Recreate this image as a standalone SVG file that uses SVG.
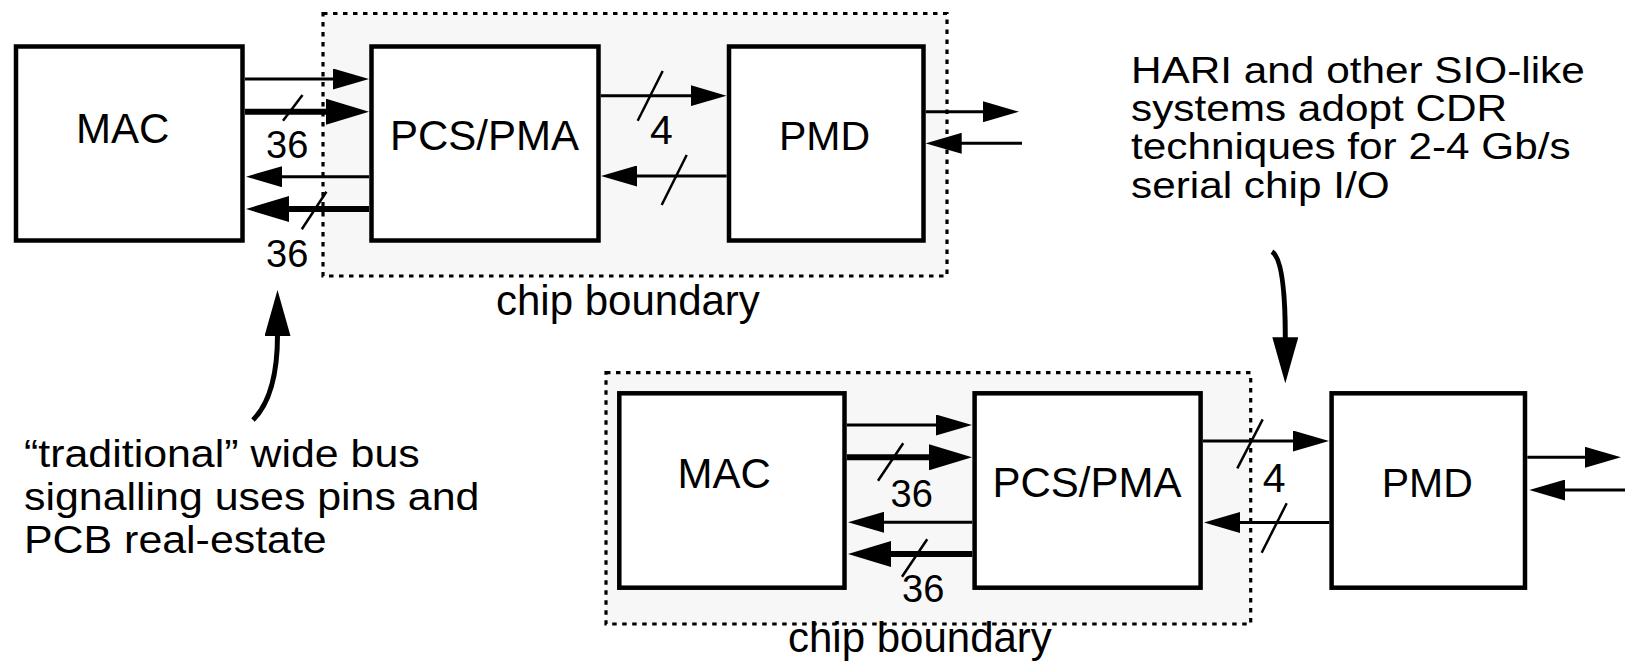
<svg xmlns="http://www.w3.org/2000/svg" width="1625" height="668" viewBox="0 0 1625 668">
<style>
  .bnd { fill: #f7f7f7; stroke: #000; stroke-width: 3.2; stroke-dasharray: 4.5 5.5; }
  .box { fill: #fff; stroke: #000; stroke-width: 4.5; }
  .t { font-family: "Liberation Sans", Arial, sans-serif; font-size: 42px; fill: #000; }
  .n { font-family: "Liberation Sans", Arial, sans-serif; font-size: 38px; fill: #000; }
  .thin { stroke: #000; stroke-width: 3; fill: none; marker-end: url(#ah); }
  .thick { stroke: #000; stroke-width: 6; fill: none; marker-end: url(#ahb); }
  .slash { stroke: #000; stroke-width: 2.5; }
  .curve { stroke: #000; stroke-width: 5; fill: none; marker-end: url(#ahc); }
</style>
<defs>
  <marker id="ah" markerUnits="userSpaceOnUse" viewBox="0 0 36 21" markerWidth="36" markerHeight="21" refX="1" refY="10.5" orient="auto">
    <path d="M0,0 L36,10.5 L0,21 z" fill="#000"/>
  </marker>
  <marker id="ahb" markerUnits="userSpaceOnUse" viewBox="0 0 43 26" markerWidth="43" markerHeight="26" refX="1" refY="13" orient="auto">
    <path d="M0,0 L43,13 L0,26 z" fill="#000"/>
  </marker>
  <marker id="ahc" markerUnits="userSpaceOnUse" viewBox="0 0 46 26" markerWidth="46" markerHeight="26" refX="1" refY="13" orient="auto">
    <path d="M0,0 L46,13 L0,26 z" fill="#000"/>
  </marker>
</defs>

<g id="boundary-top">
  <rect class="bnd" x="323" y="13.5" width="624" height="262.5"/>
  <text class="t" x="496" y="315">chip boundary</text>
</g>
<g id="boundary-bottom">
  <rect class="bnd" x="606" y="372.7" width="644.7" height="251.3"/>
  <text class="t" x="788" y="651.7">chip boundary</text>
</g>

<g id="mac-top">
  <rect class="box" x="16" y="46.5" width="226.5" height="194"/>
  <text class="t" x="76" y="143">MAC</text>
</g>
<g id="pcs-top">
  <rect class="box" x="371.5" y="46.5" width="227" height="194"/>
  <text class="t" x="390" y="150">PCS/PMA</text>
</g>
<g id="pmd-top">
  <rect class="box" x="729" y="46.5" width="194.5" height="194"/>
  <text class="t" x="779" y="150" style="font-size:41px">PMD</text>
</g>

<g id="mac-bottom">
  <rect class="box" x="619.3" y="393.3" width="225.2" height="194.4"/>
  <text class="t" x="677.6" y="488.3">MAC</text>
</g>
<g id="pcs-bottom">
  <rect class="box" x="974.6" y="393.3" width="226" height="194.4"/>
  <text class="t" x="992.5" y="496.7">PCS/PMA</text>
</g>
<g id="pmd-bottom">
  <rect class="box" x="1331.6" y="393.3" width="193.4" height="194.4"/>
  <text class="t" x="1381.7" y="496.7" style="font-size:41px">PMD</text>
</g>

<g id="note-left">
  <text class="t" transform="translate(24,0) scale(1.1,1)" style="font-size:39px"><tspan x="0" y="466.7">“traditional” wide bus</tspan><tspan x="0" y="510">signalling uses pins and</tspan><tspan x="0" y="553.3">PCB real-estate</tspan></text>
</g>
<g id="note-right">
  <text class="t" transform="translate(1131,0) scale(1.128,1)" style="font-size:37.5px"><tspan x="0" y="83.3">HARI and other SIO-like</tspan><tspan x="0" y="121">systems adopt CDR</tspan><tspan x="0" y="159.3">techniques for 2-4 Gb/s</tspan><tspan x="0" y="197.7">serial chip I/O</tspan></text>
</g>

<g id="connectors">
  <!-- top MAC <-> PCS -->
  <line class="thin" x1="245" y1="79" x2="334" y2="79"/>
  <line class="thick" x1="245" y1="111.7" x2="327" y2="111.7"/>
  <line class="thin" x1="369" y1="176.7" x2="281" y2="176.7"/>
  <line class="thick" x1="369" y1="209" x2="288" y2="209"/>
  <line class="slash" x1="302.5" y1="95" x2="283" y2="120.7"/>
  <line class="slash" x1="326.4" y1="191.7" x2="301.8" y2="229.3"/>
  <text class="n" x="266" y="158">36</text>
  <text class="n" x="266" y="267">36</text>
  <!-- top PCS <-> PMD -->
  <line class="thin" x1="600.7" y1="95.7" x2="691.5" y2="95.7"/>
  <line class="thin" x1="726.7" y1="176" x2="636" y2="176"/>
  <line class="slash" x1="662.7" y1="71" x2="637.7" y2="120.7"/>
  <line class="slash" x1="686.7" y1="155" x2="661.7" y2="205"/>
  <text class="t" x="650" y="144" style="font-size:41px">4</text>
  <!-- top PMD external -->
  <line class="thin" x1="925.7" y1="111.7" x2="984" y2="111.7"/>
  <line class="thin" x1="1022" y1="143.3" x2="960.7" y2="143.3"/>
  <!-- top callout -->
  <path class="curve" d="M253,420 C271,402 277.5,372 277.5,335"/>

  <!-- bottom MAC <-> PCS -->
  <line class="thin" x1="846.8" y1="425" x2="937" y2="425"/>
  <line class="thick" x1="846.8" y1="457.3" x2="930" y2="457.3"/>
  <line class="thin" x1="972.3" y1="522.3" x2="883" y2="522.3"/>
  <line class="thick" x1="972.3" y1="554" x2="890" y2="554"/>
  <line class="slash" x1="903.2" y1="443.3" x2="878" y2="480.7"/>
  <line class="slash" x1="927.2" y1="539.3" x2="902" y2="576.7"/>
  <text class="n" x="890.6" y="506.7">36</text>
  <text class="n" x="902" y="601.7">36</text>
  <!-- bottom PCS <-> PMD -->
  <line class="thin" x1="1202.9" y1="441" x2="1294" y2="441"/>
  <line class="thin" x1="1329.3" y1="522.5" x2="1239" y2="522.5"/>
  <line class="slash" x1="1262.7" y1="419.3" x2="1237.3" y2="468.3"/>
  <line class="slash" x1="1286.7" y1="503.3" x2="1261.7" y2="552.7"/>
  <text class="t" x="1262.7" y="491.7" style="font-size:41px">4</text>
  <!-- bottom PMD external -->
  <line class="thin" x1="1527.3" y1="457.3" x2="1586" y2="457.3"/>
  <line class="thin" x1="1625" y1="490" x2="1564.3" y2="490"/>
  <!-- bottom callout -->
  <path class="curve" d="M1272,251.7 C1282,258 1285.3,292 1285.3,338.3"/>
</g>
</svg>
